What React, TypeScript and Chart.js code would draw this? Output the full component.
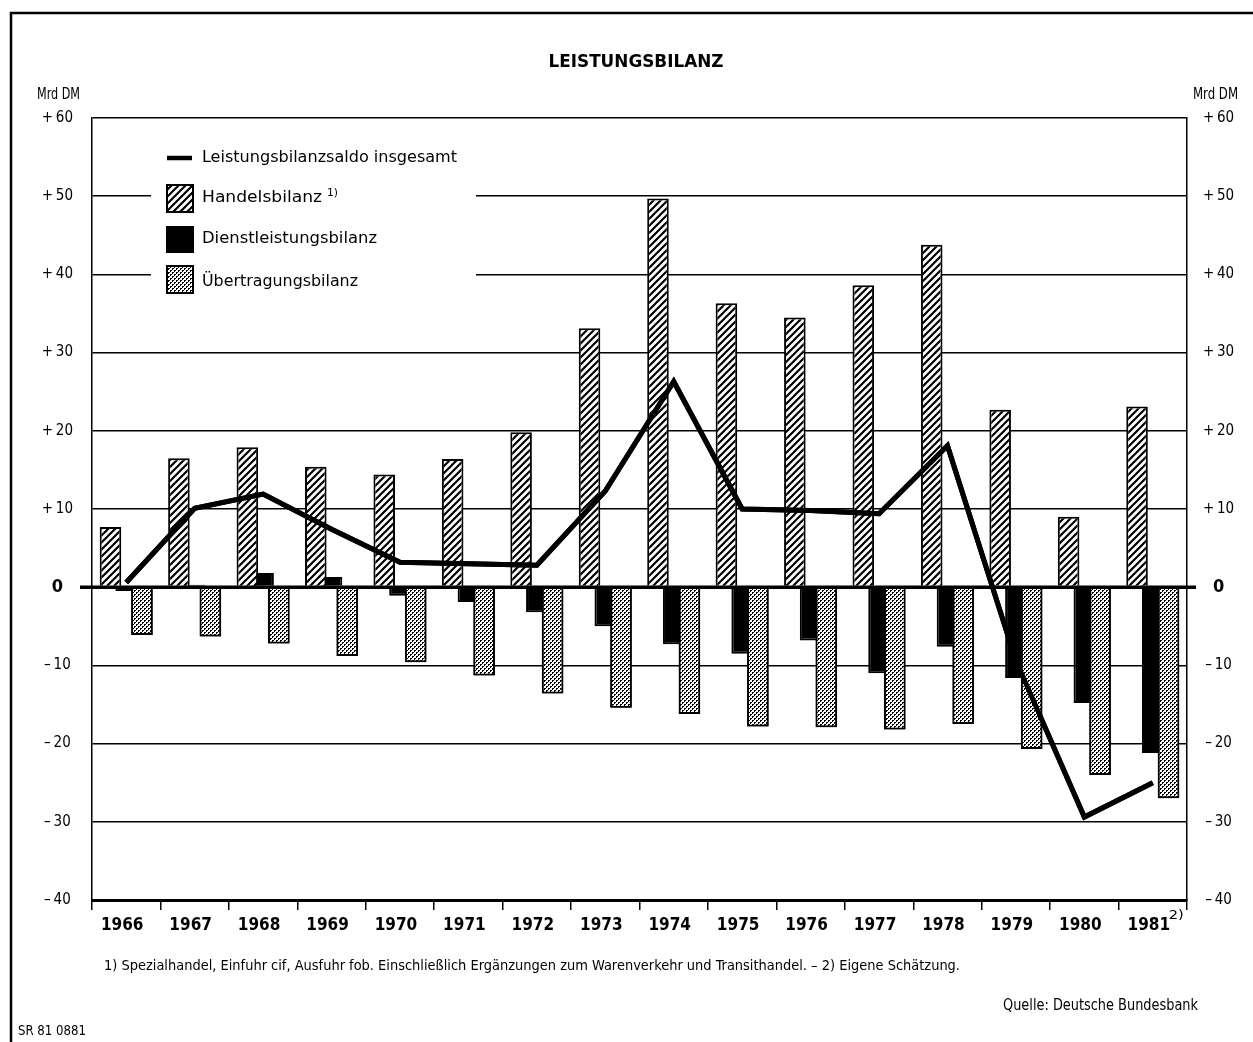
import React, { useEffect, useRef } from 'react';
import { Chart, registerables } from 'chart.js';

Chart.register(...registerables);

// ---- data ----
const years = ['1966', '1967', '1968', '1969', '1970', '1971', '1972', '1973', '1974', '1975', '1976', '1977', '1978', '1979', '1980', '1981'];
const handelsbilanz = [7.7, 16.5, 17.9, 15.4, 14.4, 16.4, 19.8, 33.1, 49.7, 36.3, 34.5, 38.6, 43.8, 22.7, 9.0, 23.1];
const dienstleistungsbilanz = [-0.5, 0.3, 1.8, 1.3, -1.1, -1.9, -3.2, -5.0, -7.3, -8.5, -6.8, -11.0, -7.6, -11.6, -14.8, -21.2];
const uebertragungsbilanz = [-6.1, -6.3, -7.2, -8.8, -9.6, -11.3, -13.6, -15.4, -16.2, -17.8, -17.9, -18.2, -17.5, -20.7, -24.0, -27.0];
const leistungsbilanzsaldo = [0.6, 10.1, 11.9, 7.4, 3.2, 3.0, 2.8, 12.3, 26.3, 10.0, 9.8, 9.4, 18.1, -9.4, -29.4, -25.0];

const yTicks = [-40, -30, -20, -10, 0, 10, 20, 30, 40, 50, 60];

const title = 'LEISTUNGSBILANZ';
const unitLabel = 'Mrd DM';
const legendLabels = ['Leistungsbilanzsaldo insgesamt', 'Handelsbilanz', 'Dienstleistungsbilanz', 'Übertragungsbilanz'];
const footnote = '1) Spezialhandel, Einfuhr cif, Ausfuhr fob. Einschließlich Ergänzungen zum Warenverkehr und Transithandel. – 2) Eigene Schätzung.';
const source = 'Quelle: Deutsche Bundesbank';
const code = 'SR 81 0881';

const W = 1253;
const H = 1042;
const FONT = "'DejaVu Sans Condensed', 'Liberation Sans Narrow', sans-serif";

function makeHatch(): CanvasPattern | string {
  const s = 7;
  const c = document.createElement('canvas');
  c.width = s;
  c.height = s;
  const g = c.getContext('2d');
  if (!g) return '#888';
  g.fillStyle = '#fff';
  g.fillRect(0, 0, s, s);
  g.strokeStyle = '#000';
  g.lineWidth = 2.2;
  g.beginPath();
  g.moveTo(0, s);
  g.lineTo(s, 0);
  g.moveTo(-2, 2);
  g.lineTo(2, -2);
  g.moveTo(s - 2, s + 2);
  g.lineTo(s + 2, s - 2);
  g.stroke();
  return g.createPattern(c, 'repeat') || '#888';
}

function makeDots(): CanvasPattern | string {
  const c = document.createElement('canvas');
  c.width = 4;
  c.height = 4;
  const g = c.getContext('2d');
  if (!g) return '#aaa';
  g.fillStyle = '#fff';
  g.fillRect(0, 0, 4, 4);
  g.fillStyle = '#000';
  const px = [[0, 0], [1, 0], [0, 1], [2, 2], [3, 2], [2, 3]];
  px.forEach(([x, y]) => g.fillRect(x, y, 1, 1));
  return g.createPattern(c, 'repeat') || '#aaa';
}

function fitText(ctx: CanvasRenderingContext2D, text: string, x: number, y: number, font: string, width: number, align: 'left' | 'center' | 'right' = 'left') {
  ctx.save();
  ctx.font = font;
  ctx.textBaseline = 'middle';
  ctx.textAlign = 'left';
  ctx.fillStyle = '#000';
  const w = ctx.measureText(text).width || 1;
  const s = width / w;
  const x0 = align === 'left' ? x : align === 'right' ? x - width : x - width / 2;
  ctx.translate(x0, y);
  ctx.scale(s, 1);
  ctx.fillText(text, 0, 0);
  ctx.restore();
}

const yLabel = (v: any) => (v > 0 ? '+\u2009' + v : v < 0 ? '–\u2009' + Math.abs(v) : '0');
const yFont = (c: any) => (c.tick && c.tick.value === 0 ? { family: FONT, size: 18, weight: 'bold' } : { family: FONT, size: 15 });

export default function App() {
  const ref = useRef<HTMLCanvasElement | null>(null);

  useEffect(() => {
    const canvas = ref.current;
    if (!canvas) return;
    const hatch = makeHatch();
    const dots = makeDots();

    const decor = {
      id: 'decor',
      beforeDatasetsDraw(chart: any) {
        const ctx: CanvasRenderingContext2D = chart.ctx;
        ctx.save();
        ctx.fillStyle = '#fff';
        ctx.fillRect(151, 136, 325, 170);
        ctx.strokeStyle = '#000';
        ctx.lineWidth = 4.5;
        ctx.beginPath();
        ctx.moveTo(167, 158);
        ctx.lineTo(192, 158);
        ctx.stroke();
        ctx.lineWidth = 2;
        ctx.fillStyle = hatch as any;
        ctx.fillRect(167, 185, 26, 27);
        ctx.strokeRect(167, 185, 26, 27);
        ctx.fillStyle = '#000';
        ctx.fillRect(166, 226, 28, 27);
        ctx.fillStyle = dots as any;
        ctx.fillRect(167, 266, 26, 27);
        ctx.strokeRect(167, 266, 26, 27);
        ctx.restore();
        const lf = `16px ${FONT}`;
        fitText(ctx, legendLabels[0], 202, 158, lf, 255);
        fitText(ctx, legendLabels[1], 202, 198, lf, 120);
        fitText(ctx, '1)', 327, 193, `11px ${FONT}`, 11);
        fitText(ctx, legendLabels[2], 202, 239, lf, 175);
        fitText(ctx, legendLabels[3], 202, 282, lf, 156);
      },
      afterDatasetsDraw(chart: any) {
        const ctx: CanvasRenderingContext2D = chart.ctx;
        chart.getDatasetMeta(2).controller.draw();
        const y0 = chart.scales.y.getPixelForValue(0);
        ctx.save();
        ctx.strokeStyle = '#000';
        ctx.lineWidth = 3.5;
        ctx.beginPath();
        ctx.moveTo(80, y0);
        ctx.lineTo(1196, y0);
        ctx.stroke();
        ctx.restore();
        chart.getDatasetMeta(3).controller.draw();
      },
      afterDraw(chart: any) {
        const ctx: CanvasRenderingContext2D = chart.ctx;
        ctx.save();
        ctx.strokeStyle = '#000';
        ctx.lineWidth = 2.5;
        ctx.beginPath();
        ctx.moveTo(11, H);
        ctx.lineTo(11, 13);
        ctx.lineTo(W, 13);
        ctx.stroke();
        ctx.restore();
        fitText(ctx, title, 636, 62, `bold 18px ${FONT}`, 175, 'center');
        fitText(ctx, unitLabel, 37, 95, `16px ${FONT}`, 43);
        fitText(ctx, unitLabel, 1193, 95, `16px ${FONT}`, 45);
        const xs = chart.scales.x;
        const x81 = xs.getPixelForValue(years.length - 1);
        fitText(ctx, '2)', x81 + 16, 916, `12px ${FONT}`, 15);
        fitText(ctx, footnote, 104, 966, `14px ${FONT}`, 856);
        fitText(ctx, source, 1003, 1006, `15px ${FONT}`, 195);
        fitText(ctx, code, 18, 1031, `14px ${FONT}`, 68);
      },
    };

    const chart = new Chart(canvas, {
      type: 'bar',
      data: {
        labels: years,
        datasets: [
          {
            type: 'bar',
            label: legendLabels[1],
            data: handelsbilanz,
            backgroundColor: hatch as any,
            borderColor: '#000',
            borderWidth: 2,
            borderSkipped: 'start',
            categoryPercentage: 0.69,
            barPercentage: 1.37,
          },
          {
            type: 'bar',
            label: legendLabels[2],
            data: dienstleistungsbilanz,
            backgroundColor: '#000',
            borderColor: '#000',
            borderWidth: 2,
            borderSkipped: 'start',
            categoryPercentage: 0.69,
            barPercentage: 1.37,
          },
          {
            type: 'bar',
            label: legendLabels[3],
            data: uebertragungsbilanz,
            backgroundColor: dots as any,
            borderColor: '#000',
            borderWidth: 2,
            borderSkipped: 'start',
            categoryPercentage: 0.69,
            barPercentage: 1.37,
          },
          {
            type: 'line',
            label: legendLabels[0],
            data: leistungsbilanzsaldo,
            borderColor: '#000',
            borderWidth: 5,
            pointRadius: 0,
            tension: 0,
            borderJoinStyle: 'miter',
            borderCapStyle: 'butt',
            order: -1,
          } as any,
        ],
      },
      options: {
        responsive: false,
        animation: false,
        devicePixelRatio: 1,
        layout: { padding: { top: 118, left: 0, right: 0, bottom: 0 } },
        plugins: {
          legend: { display: false },
          title: { display: false },
          tooltip: { enabled: false },
        },
        scales: {
          x: {
            type: 'category',
            offset: true,
            grid: {
              display: true,
              drawOnChartArea: false,
              drawTicks: true,
              tickLength: 10,
              offset: true,
              color: '#000',
              lineWidth: 1.5,
            },
            border: { display: true, color: '#000', width: 3 },
            ticks: {
              color: '#000',
              font: { family: FONT, size: 17, weight: 'bold' },
              padding: 5,
              labelOffset: -4,
              maxRotation: 0,
              autoSkip: false,
            },
            afterFit: (s: any) => {
              s.height = 142;
            },
          },
          y: {
            type: 'linear',
            position: 'left',
            min: yTicks[0],
            max: yTicks[yTicks.length - 1],
            afterBuildTicks: (s: any) => {
              s.ticks = yTicks.map((v) => ({ value: v }));
            },
            grid: {
              color: '#000',
              lineWidth: (c: any) => (c.tick && c.tick.value === 0 ? 3 : 1.5),
              drawTicks: false,
            },
            border: { display: true, color: '#000', width: 1.5 },
            ticks: {
              color: '#000',
              crossAlign: 'center',
              padding: 19,
              font: yFont,
              callback: yLabel,
            },
            afterFit: (s: any) => {
              s.width = 92;
            },
          },
          y2: {
            type: 'linear',
            position: 'right',
            min: yTicks[0],
            max: yTicks[yTicks.length - 1],
            afterBuildTicks: (s: any) => {
              s.ticks = yTicks.map((v) => ({ value: v }));
            },
            grid: { display: false, drawTicks: false },
            border: { display: true, color: '#000', width: 1.5 },
            ticks: {
              color: '#000',
              crossAlign: 'center',
              padding: 16,
              font: yFont,
              callback: yLabel,
            },
            afterFit: (s: any) => {
              s.width = 66;
            },
          },
        },
      } as any,
      plugins: [decor],
    });

    return () => {
      chart.destroy();
    };
  }, []);

  return (
    <div style={{ position: 'fixed', left: 0, top: 0, width: W, height: H, background: '#fff' }}>
      <canvas ref={ref} width={W} height={H} style={{ display: 'block', width: W, height: H }} />
    </div>
  );
}
